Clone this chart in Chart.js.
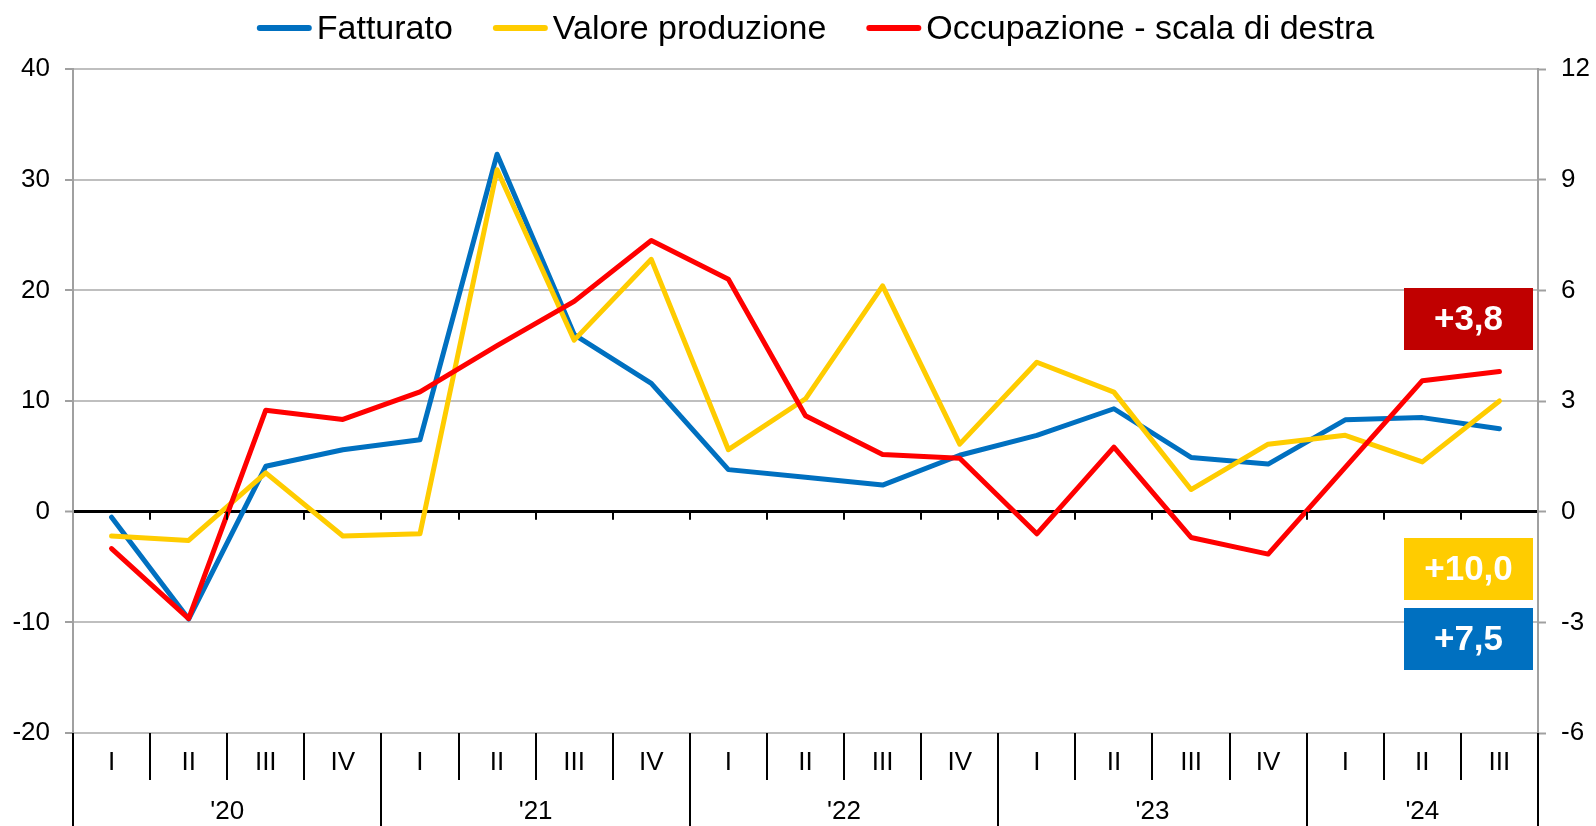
<!DOCTYPE html>
<html lang="it">
<head>
<meta charset="utf-8">
<title>Fatturato, valore della produzione e occupazione</title>
<script src="https://cdn.jsdelivr.net/npm/chart.js@4.4.1/dist/chart.umd.min.js"></script>
<style>
  html, body { margin: 0; padding: 0; background: #fff; }
  #grafico { display: block; }
</style>
</head>
<body>
<canvas id="grafico" width="1596" height="826"></canvas>
<script>
"use strict";

// --- Dati (variazioni % tendenziali) ---
const TRIMESTRI = ["I", "II", "III", "IV", "I", "II", "III", "IV", "I", "II", "III", "IV",
  "I", "II", "III", "IV", "I", "II", "III"];
const ANNI = ["'20", "'21", "'22", "'23", "'24"];
const TRIMESTRI_PER_ANNO = [4, 4, 4, 4, 3];

const FATTURATO = [-0.5, -9.7, 4.1, 5.6, 6.5, 32.3, 16.0, 11.6, 3.8, 3.1, 2.4, 5.1,
  6.9, 9.3, 4.9, 4.3, 8.3, 8.5, 7.5];
const VALORE_PRODUZIONE = [-2.2, -2.6, 3.5, -2.2, -2.0, 30.9, 15.5, 22.8, 5.6, 10.2, 20.4, 6.1,
  13.5, 10.8, 2.0, 6.1, 6.9, 4.5, 10.0];
const OCCUPAZIONE = [-1.0, -2.9, 2.75, 2.5, 3.25, 4.5, 5.7, 7.35, 6.3, 2.6, 1.55, 1.45,
  -0.6, 1.75, -0.7, -1.15, 1.2, 3.55, 3.8];

const SCALA_SX = [-20, 40, 10];   // min, max, passo
const SCALA_DX = [-6, 12, 3];

const BLU = "#0070C0", GIALLO = "#FFCC00", ROSSO = "#FF0000", ROSSO_SCURO = "#C00000";
const FONT = '"Liberation Sans", Arial, sans-serif';
Chart.defaults.font.family = FONT;
Chart.defaults.color = "#000";

// centro di ogni anno sull'asse dei trimestri
const centriAnni = [];
const confiniAnni = [0];
TRIMESTRI_PER_ANNO.reduce((inizio, n) => {
  centriAnni.push(inizio + (n - 1) / 2);
  confiniAnni.push(inizio + n);
  return inizio + n;
}, 0);

const fmt = (v) => (v > 0 ? "+" : "") + v.toFixed(1).replace(".", ",");

/** Legenda, separatori dell'asse x e riquadri con l'ultimo valore. */
const decorazioni = {
  id: "decorazioni",
  afterDraw(chart) {
    const { ctx, chartArea: ca, scales } = chart;
    const bordo = (i) => scales.x2.getPixelForValue(i - 0.5);
    const y0 = scales.y.getPixelForValue(0);
    ctx.save();
    ctx.strokeStyle = "#000";
    ctx.lineWidth = 2;
    ctx.beginPath();
    for (let i = 1; i < TRIMESTRI.length; i++) {
      const px = Math.round(bordo(i));
      ctx.moveTo(px, y0); ctx.lineTo(px, y0 + 8);
    }
    for (let i = 0; i <= TRIMESTRI.length; i++) {
      const px = Math.round(bordo(i));
      ctx.moveTo(px, ca.bottom); ctx.lineTo(px, scales.x.bottom);
    }
    confiniAnni.forEach((i) => {
      const px = Math.round(bordo(i));
      ctx.moveTo(px, scales.x.bottom); ctx.lineTo(px, scales.x2.bottom);
    });
    ctx.stroke();

    // legenda
    ctx.font = "34px " + FONT;
    ctx.textBaseline = "alphabetic";
    ctx.textAlign = "left";
    const items = chart.data.datasets;
    const larghezze = items.map((d) => ctx.measureText(d.label).width);
    const tot = larghezze.reduce((s, w) => s + w + 60, 0) + 40 * (items.length - 1);
    let lx = (ca.left + ca.right) / 2 + 10 - tot / 2;
    items.forEach((d, k) => {
      ctx.strokeStyle = d.borderColor;
      ctx.lineWidth = 6;
      ctx.lineCap = "round";
      ctx.beginPath(); ctx.moveTo(lx + 3, 28); ctx.lineTo(lx + 52, 28); ctx.stroke();
      ctx.fillStyle = "#000";
      ctx.fillText(d.label, lx + 60, 39);
      lx += 60 + larghezze[k] + 40;
    });

    // riquadri con l'ultimo dato
    const riquadri = [
      { valore: OCCUPAZIONE.at(-1), colore: ROSSO_SCURO, top: 288 },
      { valore: VALORE_PRODUZIONE.at(-1), colore: GIALLO, top: 538 },
      { valore: FATTURATO.at(-1), colore: BLU, top: 608 },
    ];
    ctx.font = "bold 35px " + FONT;
    ctx.textAlign = "center";
    ctx.textBaseline = "middle";
    riquadri.forEach((r) => {
      const x1 = ca.right - 134;
      ctx.fillStyle = r.colore;
      ctx.fillRect(x1, r.top, 129, 62);
      ctx.fillStyle = "#fff";
      ctx.fillText(fmt(r.valore), x1 + 64.5, r.top + 32);
    });
    ctx.restore();
  },
};

const linea = (label, data, colore, asse, ordine) => ({
  label, data, borderColor: colore, backgroundColor: colore, yAxisID: asse, order: ordine,
});

new Chart(document.getElementById("grafico"), {
  type: "line",
  data: {
    labels: TRIMESTRI,
    datasets: [
      linea("Fatturato", FATTURATO, BLU, "y", 3),
      linea("Valore produzione", VALORE_PRODUZIONE, GIALLO, "y", 2),
      linea("Occupazione - scala di destra", OCCUPAZIONE, ROSSO, "y1", 1),
    ],
  },
  options: {
    responsive: false,
    animation: false,
    devicePixelRatio: 1,
    layout: { padding: { top: 69, right: 0, bottom: 0, left: 0 } },
    elements: {
      line: { borderWidth: 5, tension: 0, borderCapStyle: "round", borderJoinStyle: "round", fill: false },
      point: { radius: 0, hoverRadius: 0 },
    },
    plugins: { legend: { display: false }, tooltip: { enabled: false } },
    scales: {
      x: {
        type: "category", position: "bottom", offset: true,
        grid: { display: false, drawTicks: false }, border: { display: false },
        ticks: { font: { size: 26 }, padding: 14, autoSkip: false, maxRotation: 0 },
        afterFit: (s) => { s.height = 47; },
      },
      x2: {
        type: "linear", position: "bottom", weight: 1,
        min: -0.5, max: TRIMESTRI.length - 0.5,
        grid: { display: false, drawTicks: false }, border: { display: false },
        afterBuildTicks: (s) => { s.ticks = centriAnni.map((v) => ({ value: v })); },
        ticks: { font: { size: 26 }, padding: 16, autoSkip: false, maxRotation: 0,
          callback: (v, i) => ANNI[i] },
        afterFit: (s) => { s.height = 46; },
      },
      y: {
        position: "left", min: SCALA_SX[0], max: SCALA_SX[1],
        ticks: { stepSize: SCALA_SX[2], font: { size: 26 }, padding: 15 },
        grid: {
          color: (c) => (c.tick.value === 0 ? "#000" : "#bfbfbf"),
          lineWidth: (c) => (c.tick.value === 0 ? 3 : 2),
          tickColor: "#a0a0a0", tickLength: 8, tickWidth: 2,
        },
        border: { color: "#a0a0a0", width: 2 },
        afterFit: (s) => { s.width = 73; },
      },
      y1: {
        position: "right", min: SCALA_DX[0], max: SCALA_DX[1],
        ticks: { stepSize: SCALA_DX[2], font: { size: 26 }, padding: 15 },
        grid: { drawOnChartArea: false, tickColor: "#a0a0a0", tickLength: 8, tickWidth: 2 },
        border: { color: "#a0a0a0", width: 2 },
        afterFit: (s) => { s.width = 58; },
      },
    },
  },
  plugins: [decorazioni],
});
</script>
</body>
</html>
